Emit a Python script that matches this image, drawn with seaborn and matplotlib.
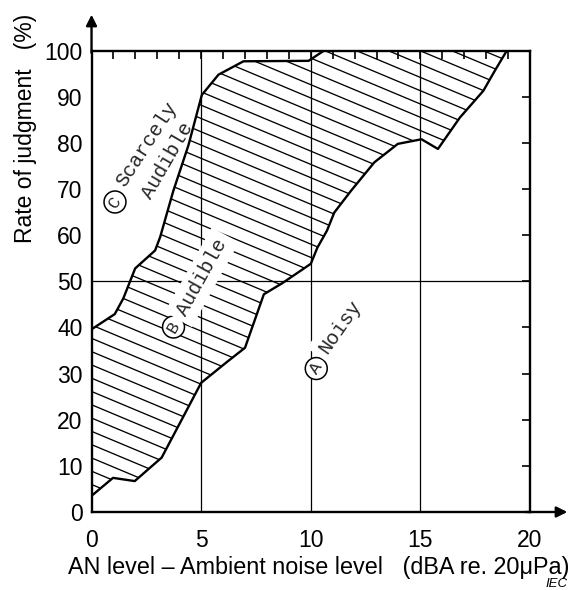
import numpy as np
import matplotlib
matplotlib.use("Agg")
import matplotlib.pyplot as plt
import seaborn as sns
from matplotlib.patches import Polygon
from matplotlib.collections import LineCollection
from matplotlib.ticker import MultipleLocator, FixedLocator

# ---------------- data ----------------
# Boundary between (C) "Scarcely Audible" and (B) "Audible"
upper_x = [0.0, 1.06, 1.45, 1.99, 2.9, 3.13, 3.73, 4.42, 5.03, 5.79, 6.93, 9.9, 10.6]
upper_y = [39.6, 42.9, 46.3, 52.8, 56.7, 59.6, 69.6, 79.5, 90.4, 94.8, 97.7, 97.8, 100.0]
# Boundary between (B) "Audible" and (A) "Noisy"
lower_x = [0.0, 0.98, 1.97, 3.2, 5.0, 6.17, 7.0, 7.86, 8.7, 10.0, 10.3, 10.74, 11.07,
           11.83, 12.9, 13.97, 15.05, 15.8, 16.8, 17.87, 18.4, 18.94]
lower_y = [3.5, 7.4, 6.7, 11.8, 28.0, 32.5, 35.6, 47.2, 49.6, 53.8, 57.3, 61.0, 64.9,
           69.6, 75.8, 79.8, 80.8, 78.7, 85.5, 91.3, 95.7, 100.0]

x_ticks = [0, 5, 10, 15, 20]
y_ticks = [0, 10, 20, 30, 40, 50, 60, 70, 80, 90, 100]
x_grid = [5, 10, 15]
y_grid = [50]

x_label = "AN level \u2013 Ambient noise level   (dBA re. 20\u03bcPa)"
y_label = "Rate of judgment   (%)"

# ---------------- style ----------------
sns.set_style("white")
plt.rcParams["font.family"] = ["Liberation Sans", "DejaVu Sans"]
mono = ["Liberation Mono", "DejaVu Sans Mono", "DejaVu Sans"]

fig = plt.figure(figsize=(5.76, 5.90), dpi=100)
ax = fig.add_axes([0.1589, 0.1322, 0.7613, 0.7819])
ax.set_xlim(0, 20)
ax.set_ylim(0, 100)

# grid lines
for gx in x_grid:
    ax.axvline(gx, color="black", lw=0.9, zorder=1.5)
for gy in y_grid:
    ax.axhline(gy, color="black", lw=0.9, zorder=1.5)

# hatched region (Audible)
poly_pts = list(zip(upper_x, upper_y)) + [(lower_x[-1], 100.0)] + list(zip(lower_x[::-1], lower_y[::-1]))
patch = Polygon(poly_pts, closed=True, facecolor="none", edgecolor="none", zorder=2)
ax.add_patch(patch)

slope = 1.99      # data units (y per x) of hatch lines, descending
spacing = 2.88    # vertical spacing in data units
c0 = 37.65
segs = []
for k in range(-14, 40):
    c = c0 + k * spacing
    segs.append([(-1, c + slope), (21, c - 21 * slope)])
lc = LineCollection(segs, colors="black", linewidths=0.95, zorder=2)
ax.add_collection(lc)
lc.set_clip_path(patch)

# boundaries
sns.lineplot(x=upper_x, y=upper_y, sort=False, estimator=None, color="black",
             lw=1.7, ax=ax, zorder=5)
sns.lineplot(x=lower_x, y=lower_y, sort=False, estimator=None, color="black",
             lw=1.7, ax=ax, zorder=5)

# region labels
def circ(x, y, letter, rot):
    ax.text(x, y, letter, rotation=rot, rotation_mode="anchor", ha="center", va="center",
            fontsize=12.5, family=mono, zorder=4,
            bbox=dict(boxstyle="circle,pad=0.2", fc="white", ec="black", lw=1.1))

def word(x, y, s, rot, bg=True):
    kw = dict(rotation=rot, rotation_mode="anchor", ha="center", va="center",
              fontsize=14.5, family=mono, zorder=4)
    if bg:
        kw["bbox"] = dict(boxstyle="square,pad=0.3", fc="white", ec="none")
    ax.text(x, y, s, **kw)

circ(1.07, 67.2, "C", 58)
word(2.52, 79.8, "Scarcely", 57, bg=False)
word(3.46, 76.2, "Audible", 60, bg=False)
circ(3.74, 40.1, "B", 60)
word(5.03, 50.9, "Audible", 61)
circ(10.25, 31.1, "A", 56)
word(11.35, 40.1, "Noisy", 55)

# ticks
ax.xaxis.set_major_locator(FixedLocator(x_ticks))
ax.xaxis.set_minor_locator(MultipleLocator(1))
ax.yaxis.set_major_locator(FixedLocator(y_ticks))
ax.set_xticklabels([str(v) for v in x_ticks])
ax.set_yticklabels([str(v) for v in y_ticks])
ax.tick_params(which="both", direction="in", top=True, right=True, length=6,
               width=1.2, color="black", labelsize=16.5, labelcolor="black")
ax.tick_params(axis="x", pad=12)
ax.tick_params(axis="y", pad=6.5)

for sp in ax.spines.values():
    sp.set_visible(True)
    sp.set_color("black")
    sp.set_linewidth(1.7)

# axis arrows
ax.annotate("", xy=(0, 107.8), xytext=(0, 99.5), annotation_clip=False,
            arrowprops=dict(arrowstyle="-|>", lw=1.7, color="black", mutation_scale=16,
                            shrinkA=0, shrinkB=0))
ax.annotate("", xy=(21.7, 0), xytext=(19.8, 0), annotation_clip=False,
            arrowprops=dict(arrowstyle="-|>", lw=1.7, color="black", mutation_scale=16,
                            shrinkA=0, shrinkB=0))

# axis labels
ax.set_ylabel(y_label, fontsize=16.5, color="black")
ax.yaxis.set_label_coords(-0.125, 0.832)
ax.set_xlabel(x_label, fontsize=16.8, color="black")
ax.xaxis.set_label_coords(0.519, -0.095)

fig.text(568 / 576, 1 - 584 / 590, "IEC", ha="right", va="center", fontsize=9.5,
         style="italic", color="black")

fig.savefig("out.png", dpi=100, facecolor="white")
